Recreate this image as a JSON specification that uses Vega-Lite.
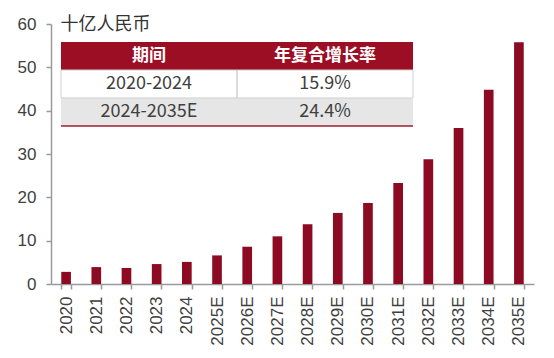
{
  "$schema": "https://vega.github.io/schema/vega-lite/v6.json",
  "width": 483,
  "height": 260,
  "autosize": "none",
  "padding": {"left": 51, "top": 24, "right": 20, "bottom": 74},
  "background": "white",
  "config": {"view": {"stroke": null}, "font": "Liberation Sans"},
  "layer": [
    {
      "data": {"values": [
        {"year": "2020", "value": 2.8},
        {"year": "2021", "value": 3.9},
        {"year": "2022", "value": 3.7},
        {"year": "2023", "value": 4.6},
        {"year": "2024", "value": 5.1},
        {"year": "2025E", "value": 6.6},
        {"year": "2026E", "value": 8.6},
        {"year": "2027E", "value": 11.0},
        {"year": "2028E", "value": 13.8},
        {"year": "2029E", "value": 16.4},
        {"year": "2030E", "value": 18.7},
        {"year": "2031E", "value": 23.3},
        {"year": "2032E", "value": 28.8},
        {"year": "2033E", "value": 36.0},
        {"year": "2034E", "value": 44.8},
        {"year": "2035E", "value": 55.8}
      ]},
      "mark": {"type": "bar", "color": "#8c0a22"},
      "encoding": {
        "x": {
          "field": "year", "type": "nominal", "sort": null,
          "scale": {"paddingInner": 0.68, "paddingOuter": 0.34},
          "axis": {
            "title": null, "labelAngle": -90, "labelFontSize": 17, "labelColor": "#404040",
            "labelPadding": 7, "domainColor": "#9a9a9a", "domainWidth": 1.5,
            "tickColor": "#9a9a9a", "tickWidth": 1.5, "tickSize": 5, "tickBand": "extent",
            "grid": false
          }
        },
        "y": {
          "field": "value", "type": "quantitative",
          "scale": {"domain": [0, 60], "nice": false},
          "axis": {
            "values": [0, 10, 20, 30, 40, 50, 60], "grid": false,
            "labelFontSize": 17, "labelColor": "#404040", "labelPadding": 10,
            "domainColor": "#9a9a9a", "domainWidth": 1.5,
            "tickColor": "#9a9a9a", "tickWidth": 1.5, "tickSize": 5,
            "title": "十亿人民币", "titleAngle": 0, "titleX": 9, "titleY": 0,
            "titleAlign": "left", "titleBaseline": "middle", "titleFont": "Noto Sans CJK SC",
            "titleFontSize": 18, "titleFontWeight": "normal", "titleColor": "#333333"
          }
        }
      }
    },
    {
      "data": {"values": [
        {"row": "header", "col": "期间", "label": "期间"},
        {"row": "header", "col": "年复合增长率", "label": "年复合增长率"},
        {"row": "r1", "col": "期间", "label": "2020-2024"},
        {"row": "r1", "col": "年复合增长率", "label": "15.9%"},
        {"row": "r2", "col": "期间", "label": "2024-2035E"},
        {"row": "r2", "col": "年复合增长率", "label": "24.4%"}
      ]},
      "encoding": {
        "x": {
          "field": "col", "type": "nominal",
          "scale": {"domain": ["期间", "年复合增长率"], "range": [10, 362], "paddingInner": 0, "paddingOuter": 0},
          "axis": null
        },
        "y": {
          "field": "row", "type": "nominal",
          "scale": {"domain": ["header", "r1", "r2"], "range": [18, 102], "paddingInner": 0, "paddingOuter": 0},
          "axis": null
        }
      },
      "layer": [
        {
          "mark": {"type": "rect"},
          "encoding": {
            "color": {
              "field": "row", "type": "nominal",
              "scale": {"domain": ["header", "r1", "r2"], "range": ["#9b0e24", "#ffffff", "#e6e6e6"]},
              "legend": null
            }
          }
        },
        {
          "transform": [{"filter": "datum.row === 'r1'"}],
          "mark": {"type": "rect", "fillOpacity": 0, "stroke": "#cfcfcf", "strokeWidth": 1}
        },
        {
          "transform": [{"filter": "datum.row === 'header'"}],
          "mark": {"type": "text", "color": "#ffffff", "fontWeight": "bold", "fontSize": 17, "font": "Noto Sans CJK SC"},
          "encoding": {"text": {"field": "label"}}
        },
        {
          "transform": [{"filter": "datum.row !== 'header'"}],
          "mark": {"type": "text", "color": "#404040", "fontSize": 18, "font": "Noto Sans CJK SC"},
          "encoding": {"text": {"field": "label"}}
        },
        {
          "transform": [{"filter": "datum.row === 'r2'"}],
          "mark": {"type": "tick", "orient": "horizontal", "color": "#9b0e24", "thickness": 2, "size": 176},
          "encoding": {
            "y": {
              "field": "row", "type": "nominal", "bandPosition": 1,
              "scale": {"domain": ["header", "r1", "r2"], "range": [18, 102], "paddingInner": 0, "paddingOuter": 0},
              "axis": null
            }
          }
        }
      ]
    }
  ],
  "resolve": {"scale": {"x": "independent", "y": "independent", "color": "independent"}}
}
